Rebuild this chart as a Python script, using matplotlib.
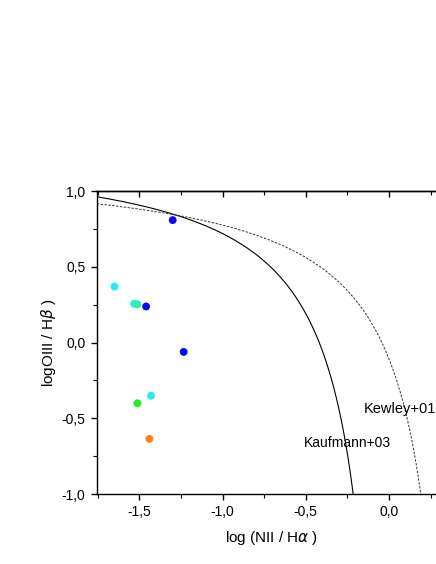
import numpy as np
import matplotlib.pyplot as plt
from matplotlib.ticker import MultipleLocator, FuncFormatter

plt.rcParams["font.family"] = ["Liberation Sans", "DejaVu Sans"]

# BPT diagram points: log(NII/Ha), log(OIII/Hb)
log_nii_ha = [-1.30, -1.65, -1.532, -1.512, -1.46, -1.234, -1.43, -1.512, -1.44]
log_oiii_hb = [0.808, 0.369, 0.256, 0.252, 0.238, -0.062, -0.351, -0.401, -0.636]
point_colors = ["#0a0af0", "#22f0f0", "#22f0f0", "#2cf0a8", "#0a0af0",
                "#0a0af0", "#22f0f0", "#22ee22", "#ff7f1e"]

# demarcation lines y = a / (x - b) + c
kauffmann03 = (0.61, 0.05, 1.30)
kewley01 = (0.61, 0.47, 1.19)

fig = plt.figure(figsize=(4.36, 5.64), dpi=100)
ax = fig.add_axes([0.2218, 0.1241, 0.80, 0.5372])

x_lo, x_hi = -1.757, 0.34


def demarcation(coef, x_end):
    a, b, c = coef
    xs = np.linspace(x_lo, x_end, 400)
    return xs, a / (xs - b) + c


xk, yk = demarcation(kauffmann03, 0.0)
xw, yw = demarcation(kewley01, 0.42)
ax.plot(xk, yk, color="black", lw=0.8)
ax.plot(xw, yw, color="#333333", lw=0.7, ls=(0, (2.5, 1.5)))

ax.scatter(log_nii_ha, log_oiii_hb, c=point_colors, s=32, zorder=3, linewidths=0)

ax.text(-0.152, -0.44, "Kewley+01", fontsize=10.5, ha="left", va="center")
ax.text(-0.51, -0.66, "Kaufmann+03", fontsize=10, ha="left", va="center")

ax.set_xlim(x_lo, x_hi)
ax.set_ylim(-1.0, 1.0)

comma = FuncFormatter(lambda v, p: f"{v:.1f}".replace(".", ",").replace("-0,0", "0,0"))
ax.xaxis.set_major_locator(MultipleLocator(0.5))
ax.xaxis.set_minor_locator(MultipleLocator(0.25))
ax.yaxis.set_major_locator(MultipleLocator(0.5))
ax.yaxis.set_minor_locator(MultipleLocator(0.25))
ax.xaxis.set_major_formatter(comma)
ax.yaxis.set_major_formatter(comma)

ax.tick_params(axis="x", which="both", direction="out", top=False, labelsize=10)
ax.tick_params(axis="y", which="both", direction="out", right=False, labelsize=10)
ax.tick_params(which="major", length=4.5, width=1.0)
ax.tick_params(which="minor", length=3, width=0.8)
sec = ax.secondary_xaxis("top")
sec.xaxis.set_major_locator(MultipleLocator(0.5))
sec.xaxis.set_minor_locator(MultipleLocator(0.25))
sec.tick_params(which="both", direction="in", labeltop=False)
sec.tick_params(which="major", length=4.5, width=1.0)
sec.tick_params(which="minor", length=3, width=0.8)
sec.spines["top"].set_linewidth(1.0)

for s in ax.spines.values():
    s.set_linewidth(1.0)

ax.set_xlabel("log (NII / H$\\alpha$ )", fontsize=11, labelpad=7)
ax.set_ylabel("logOIII / H$\\beta$ )", fontsize=11, labelpad=3)

fig.savefig("out.png", dpi=100)
